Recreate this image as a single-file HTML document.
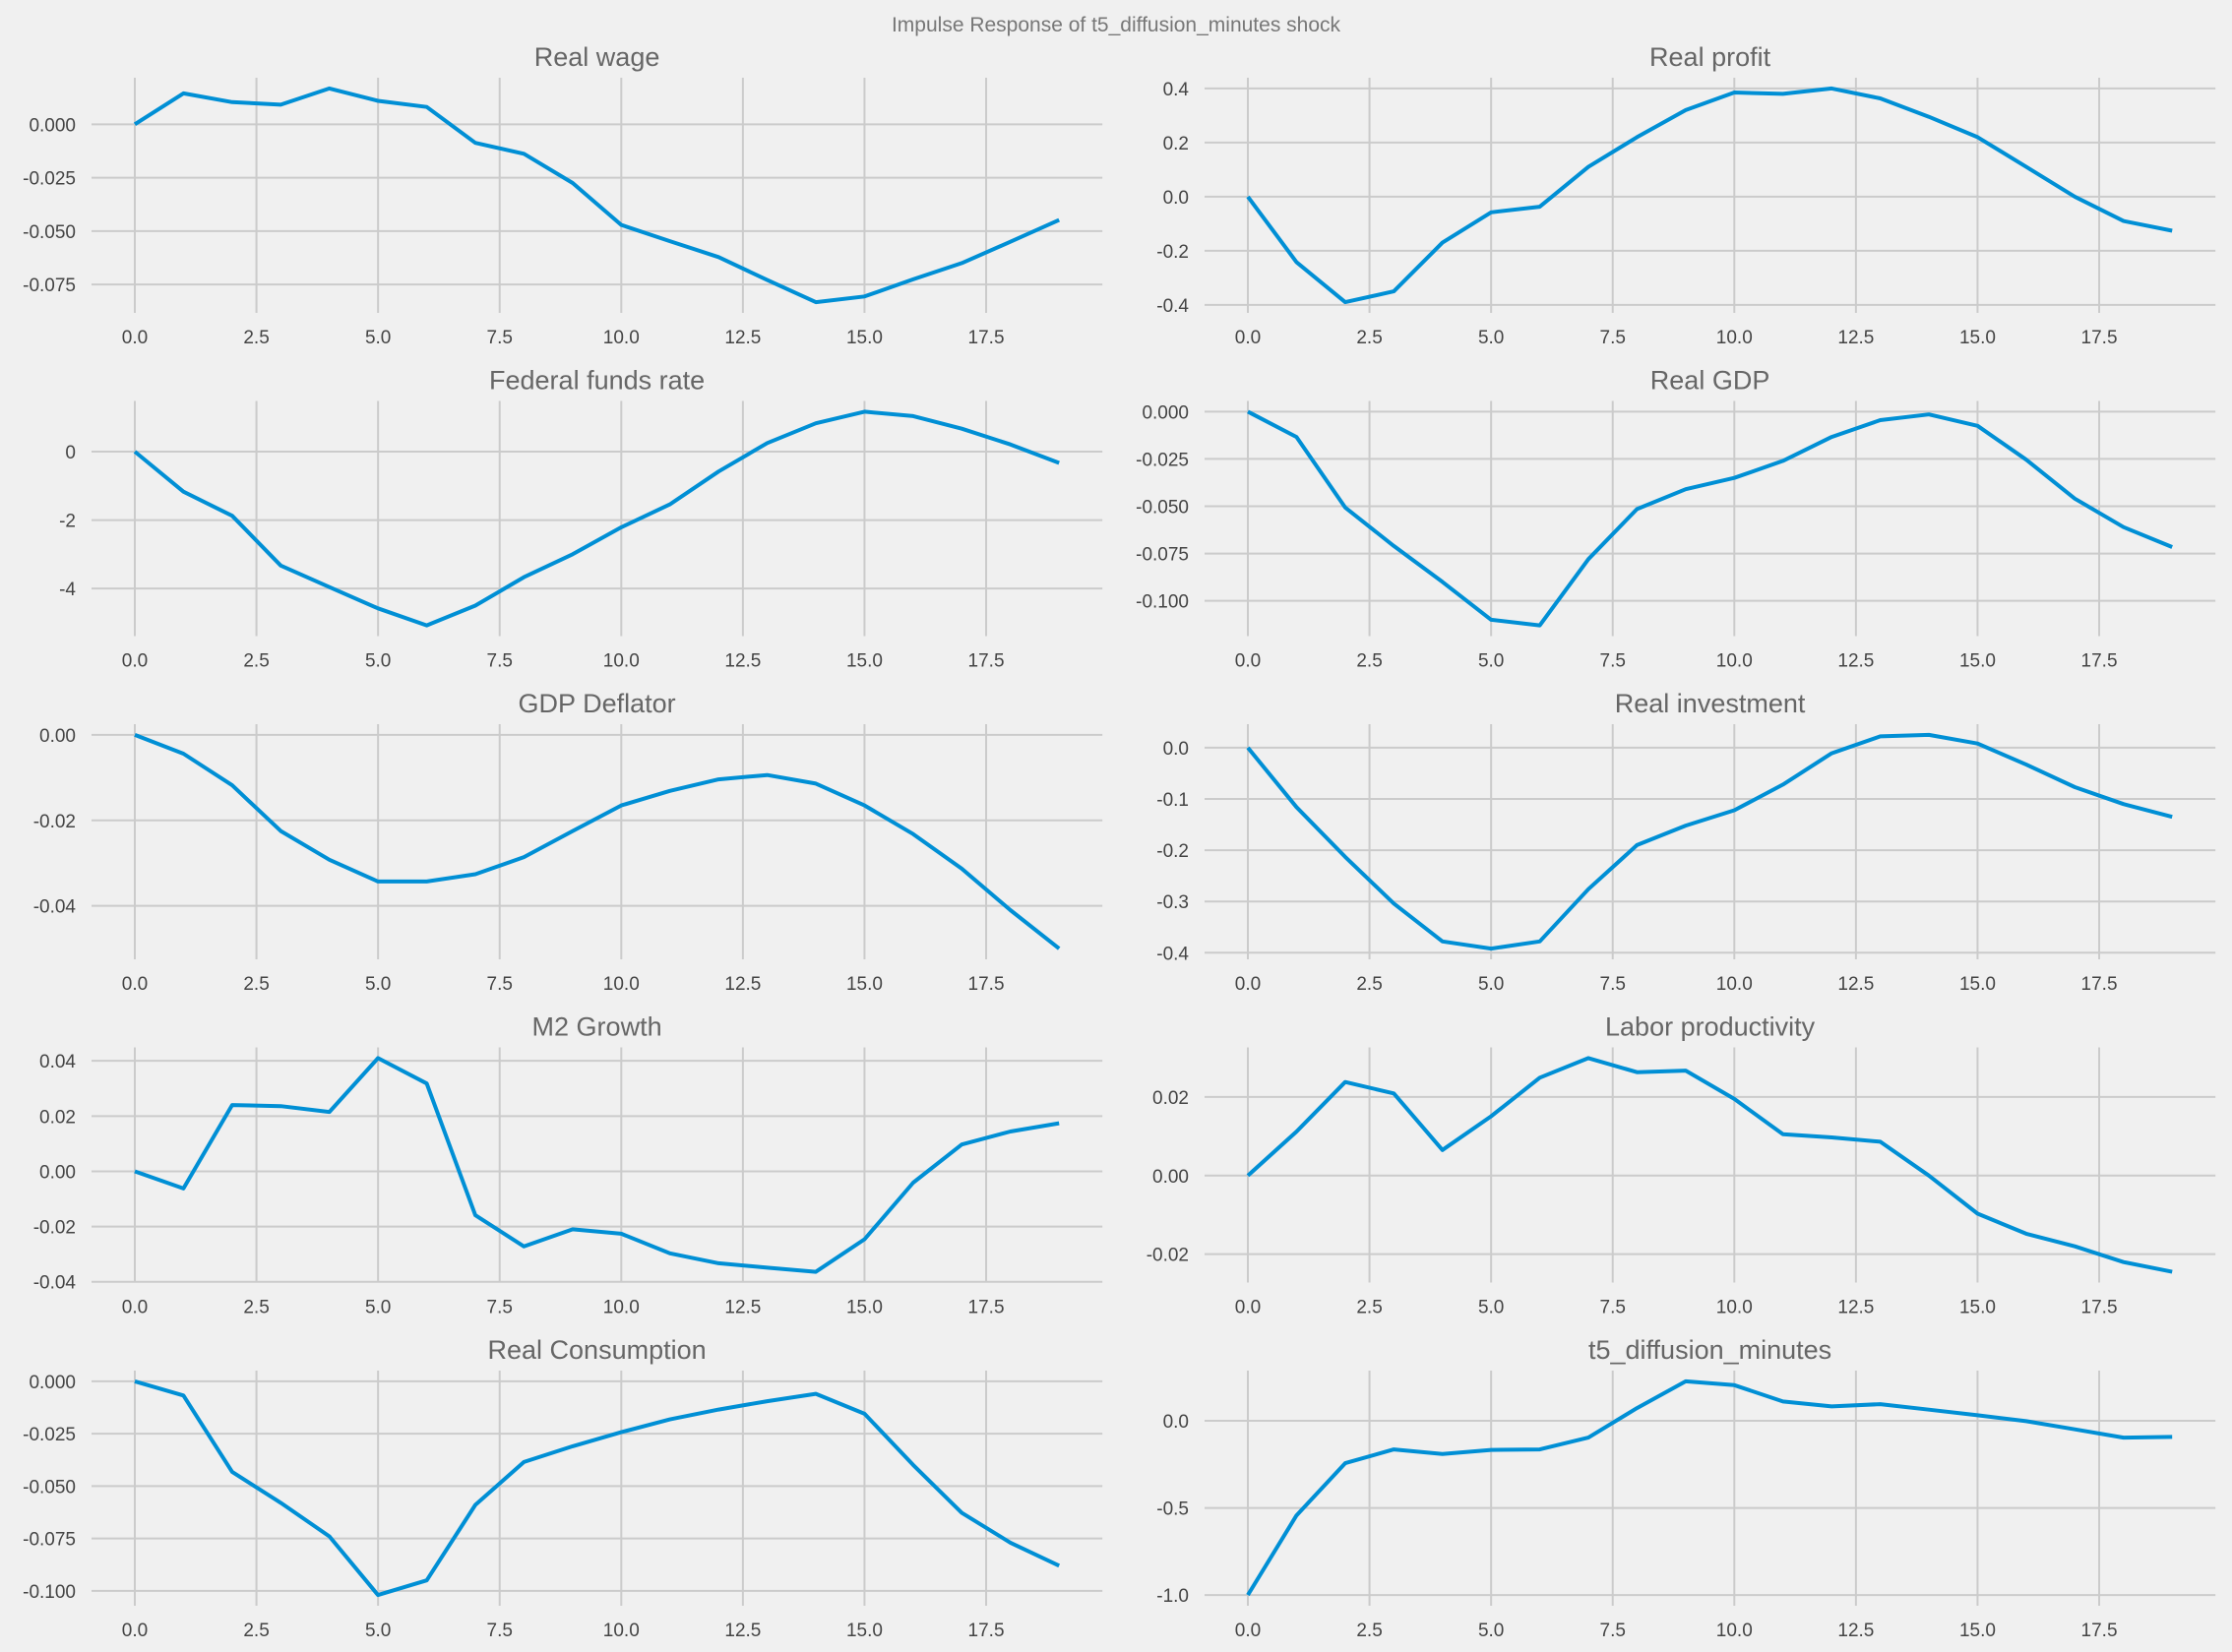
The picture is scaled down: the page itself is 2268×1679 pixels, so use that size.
<!DOCTYPE html>
<html><head><meta charset="utf-8">
<style>
html,body{margin:0;padding:0;background:#f0f0f0;}
svg{display:block;}
text{font-family:"Liberation Sans","DejaVu Sans",sans-serif;}
</style></head>
<body>
<svg id="s" width="2268" height="1679" viewBox="0 0 2268 1679" xmlns="http://www.w3.org/2000/svg">
<rect width="2268" height="1679" fill="#f0f0f0"/>
<text x="1134" y="32" font-size="21" fill="#777" text-anchor="middle">Impulse Response of t5_diffusion_minutes shock</text>
</svg>
<script>
const P=[
{t:"Real wage",c:0,r:0,d:[0,.0145,.0104,.0092,.0168,.011,.0081,-.0087,-.0138,-.0275,-.0471,-.0547,-.0622,-.0729,-.0833,-.0806,-.0726,-.065,-.055,-.0448],tk:[0,-.025,-.05,-.075],f:3},
{t:"Real profit",c:1,r:0,d:[0,-.242,-.39,-.35,-.17,-.058,-.037,.11,.22,.32,.385,.38,.40,.363,.295,.22,.11,0,-.09,-.126],tk:[.4,.2,0,-.2,-.4],f:1},
{t:"Federal funds rate",c:0,r:1,d:[0,-1.17,-1.875,-3.33,-3.96,-4.58,-5.08,-4.5,-3.67,-3.0,-2.21,-1.54,-.58,.25,.83,1.17,1.04,.67,.21,-.33],tk:[0,-2,-4],f:0},
{t:"Real GDP",c:1,r:1,d:[0,-.0134,-.0507,-.071,-.09,-.11,-.113,-.078,-.0515,-.041,-.035,-.026,-.0134,-.0045,-.0015,-.0075,-.0254,-.046,-.061,-.0716],tk:[0,-.025,-.05,-.075,-.1],f:3},
{t:"GDP Deflator",c:0,r:2,d:[0,-.0044,-.0118,-.0225,-.0292,-.0343,-.0343,-.0326,-.0286,-.0225,-.0165,-.0131,-.0104,-.0094,-.0114,-.0165,-.0232,-.0313,-.041,-.050],tk:[0,-.02,-.04],f:2},
{t:"Real investment",c:1,r:2,d:[0,-.116,-.213,-.304,-.378,-.392,-.378,-.276,-.19,-.152,-.122,-.072,-.011,.022,.025,.008,-.033,-.077,-.11,-.135],tk:[0,-.1,-.2,-.3,-.4],f:1},
{t:"M2 Growth",c:0,r:3,d:[0,-.0062,.024,.0236,.0215,.041,.0318,-.0159,-.0272,-.021,-.0226,-.0297,-.0333,-.0349,-.0364,-.0246,-.0041,.0097,.0144,.0174],tk:[.04,.02,0,-.02,-.04],f:2},
{t:"Labor productivity",c:1,r:3,d:[0,.0112,.0238,.0209,.0065,.0151,.0249,.0299,.0263,.0267,.0195,.0105,.0097,.0086,0,-.0097,-.0148,-.018,-.022,-.0245],tk:[.02,0,-.02],f:2},
{t:"Real Consumption",c:0,r:4,d:[0,-.0068,-.0432,-.058,-.074,-.102,-.095,-.059,-.0385,-.031,-.0243,-.0182,-.0135,-.0095,-.006,-.0155,-.0399,-.0628,-.077,-.088],tk:[0,-.025,-.05,-.075,-.1],f:3},
{t:"t5_diffusion_minutes",c:1,r:4,d:[-1,-.543,-.243,-.164,-.19,-.167,-.164,-.096,.073,.227,.205,.111,.083,.096,.064,.032,-.002,-.049,-.096,-.092],tk:[0,-.5,-1],f:1}
];
const s=document.getElementById('s');let h='';
const U=49.43,H=239;
for(const p of P){
 const x0=p.c?1268:137, L=x0-44, R=x0+19*U+44;
 const top=79+328.5*p.r, bot=top+H;
 let mn=Math.min(...p.d),mx=Math.max(...p.d),m=(mx-mn)*.05;mn-=m;mx+=m;
 const Y=v=>bot-(v-mn)/(mx-mn)*H, X=i=>x0+i*U;
 for(let k=0;k<8;k++){const x=X(k*2.5);h+=`<line x1="${x}" y1="${top}" x2="${x}" y2="${bot}" stroke="#cbcbcb" stroke-width="2"/>`;
  h+=`<text x="${x}" y="${bot+31}" font-size="19" fill="#444" text-anchor="middle">${(k*2.5).toFixed(1)}</text>`;}
 for(const v of p.tk){const y=Y(v);if(y<top-1||y>bot+1)continue;
  h+=`<line x1="${L}" y1="${y}" x2="${R}" y2="${y}" stroke="#cbcbcb" stroke-width="2"/>`;
  let lb=v.toFixed(p.f);if(Math.abs(v)<1e-9)lb=(0).toFixed(p.f);
  h+=`<text x="${L-16}" y="${y+7}" font-size="19" fill="#444" text-anchor="end">${lb}</text>`;}
 h+=`<polyline fill="none" stroke="#008fd5" stroke-width="4" stroke-linejoin="round" points="${p.d.map((v,i)=>X(i).toFixed(1)+','+Y(v).toFixed(1)).join(' ')}"/>`;
 h+=`<text x="${(L+R)/2}" y="${top-12}" font-size="27" fill="#666" text-anchor="middle">${p.t}</text>`;
}
s.insertAdjacentHTML('beforeend',h);
</script>
</body></html>
